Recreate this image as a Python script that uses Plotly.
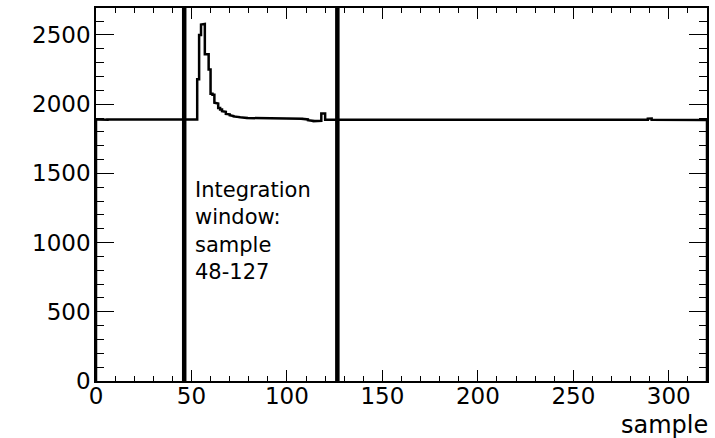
import plotly.graph_objects as go

# Histogram: ADC value per sample (bins of width 1, samples 0..319)
samples_start = 0
adc_values = [
    # 0-52 baseline
    1889, 1888, 1889, 1890, 1889, 1888, 1889, 1889, 1890, 1889,
    1888, 1889, 1889, 1890, 1889, 1889, 1888, 1889, 1890, 1889,
    1889, 1888, 1889, 1889, 1890, 1889, 1888, 1889, 1889, 1890,
    1889, 1889, 1888, 1889, 1890, 1889, 1889, 1888, 1889, 1889,
    1890, 1889, 1888, 1889, 1889, 1890, 1889, 1889, 1888, 1889,
    1890, 1889, 1889,
    # 53-80 pulse
    2180, 2500, 2575, 2580, 2360, 2360, 2250, 2075, 2068, 2010,
    2005, 1972, 1962, 1950, 1945, 1930, 1927, 1920, 1915, 1912,
    1910, 1907, 1906, 1905, 1902, 1901, 1900, 1899,
    # 81-110
    1898, 1897, 1897, 1898, 1896, 1897, 1897, 1896, 1897, 1898,
    1897, 1896, 1897, 1897, 1898, 1897, 1896, 1897, 1898, 1898,
    1897, 1897, 1898, 1898, 1897, 1896, 1895, 1894, 1893, 1890,
    # 111-126
    1884, 1880, 1879, 1878, 1879, 1880, 1880, 1932, 1932, 1888,
    1888, 1887, 1888, 1888, 1887, 1888,
    # 127-319
    1887, 1886, 1887, 1887, 1888, 1887, 1886, 1887, 1887, 1888,
    1887, 1887, 1886, 1887, 1888, 1887, 1887, 1886, 1887, 1887,
    1888, 1887, 1887, 1886, 1887, 1887, 1888, 1887, 1886, 1887,
    1887, 1888, 1887, 1887, 1886, 1887, 1888, 1887, 1887, 1886,
    1887, 1887, 1888, 1887, 1886, 1887, 1887, 1888, 1887, 1887,
    1886, 1887, 1888, 1887, 1887, 1886, 1887, 1887, 1888, 1887,
    1886, 1887, 1887, 1888, 1887, 1887, 1886, 1887, 1888, 1887,
    1887, 1886, 1887, 1887, 1888, 1887, 1886, 1887, 1887, 1888,
    1887, 1887, 1886, 1887, 1888, 1887, 1887, 1886, 1887, 1887,
    1888, 1887, 1887, 1886, 1887, 1887, 1888, 1887, 1886, 1887,
    1887, 1888, 1887, 1887, 1886, 1887, 1888, 1887, 1887, 1886,
    1887, 1887, 1888, 1887, 1886, 1887, 1887, 1888, 1887, 1887,
    1886, 1887, 1888, 1887, 1887, 1886, 1887, 1887, 1888, 1887,
    1886, 1887, 1887, 1888, 1887, 1887, 1886, 1887, 1888, 1887,
    1887, 1886, 1887, 1887, 1888, 1887, 1886, 1887, 1887, 1888,
    1887, 1887, 1886, 1887, 1888, 1887, 1887, 1886, 1887, 1887,
    1888, 1887, 1896, 1897, 1887, 1886, 1887, 1887, 1888, 1887,
    1886, 1887, 1887, 1888, 1887, 1887, 1886, 1887, 1888, 1887,
    1887, 1886, 1887, 1887, 1888, 1887, 1886, 1887, 1887, 1888,
    1887, 1887, 1886,
]

window_lines = [46.2, 126.4]
window_label = "Integration<br>window:<br>sample<br>48-127"
x_title = "sample"
x_range = [0, 320]
y_range = [0, 2695]

# Build step outline (ROOT-style histogram outline, dropping to 0 at ends)
xs = [samples_start]
ys = [0]
for i, v in enumerate(adc_values):
    xs += [samples_start + i, samples_start + i + 1]
    ys += [v, v]
xs.append(samples_start + len(adc_values))
ys.append(0)

fig = go.Figure()
fig.add_trace(go.Scatter(x=xs, y=ys, mode="lines",
                         line=dict(color="black", width=2.5),
                         showlegend=False, hoverinfo="skip"))

for xv in window_lines:
    fig.add_shape(type="line", xref="x", yref="paper", x0=xv, x1=xv, y0=0, y1=1,
                  line=dict(color="black", width=4.5))

tick_font = dict(family="DejaVu Sans", size=23, color="black")

fig.add_annotation(x=50.8, y=1480, xref="x", yref="y", text=window_label,
                   showarrow=False, xanchor="left", yanchor="top", align="left",
                   font=dict(family="DejaVu Sans", size=21, color="black"))

fig.add_annotation(x=1.0, y=-0.119, xref="paper", yref="paper", text=x_title,
                   showarrow=False, xanchor="right", yanchor="middle", xshift=3,
                   font=dict(family="DejaVu Sans", size=24, color="black"))

fig.update_xaxes(range=x_range, dtick=50, tick0=0, ticks="inside", ticklen=11,
                 tickwidth=1, tickcolor="black", ticklabelstandoff=-6,
                 minor=dict(dtick=10, ticks="inside", ticklen=5, tickcolor="black", tickwidth=1),
                 showline=True, linecolor="black", linewidth=1.5, mirror="ticks",
                 showgrid=False, zeroline=False, tickfont=tick_font)
fig.update_yaxes(range=y_range, dtick=500, tick0=0, ticks="inside", ticklen=18,
                 tickwidth=1, tickcolor="black", ticklabelstandoff=-1,
                 minor=dict(dtick=100, ticks="inside", ticklen=8, tickcolor="black", tickwidth=1),
                 showline=True, linecolor="black", linewidth=1.5, mirror="ticks",
                 showgrid=False, zeroline=False, tickfont=tick_font)

fig.update_layout(width=715, height=438,
                  margin=dict(l=96, r=6, t=8, b=57),
                  plot_bgcolor="white", paper_bgcolor="white",
                  showlegend=False)

# remove the default page margin so the 715x438 figure fills the window exactly
fig.write_html("out.html",
               config={"displayModeBar": False},
               post_script="document.body.style.margin='0px';document.body.style.overflow='hidden';")
